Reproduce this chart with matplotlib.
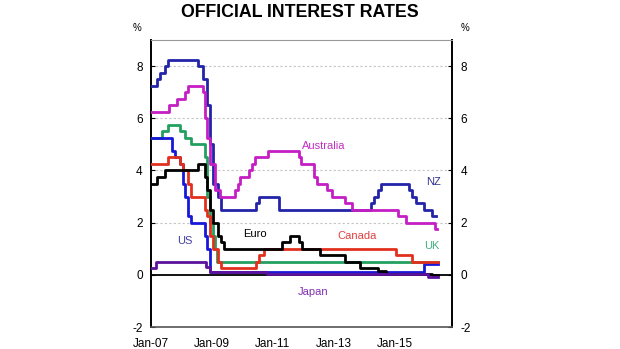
import numpy as np
import matplotlib
matplotlib.use("Agg")
import matplotlib.pyplot as plt

plt.rcParams['font.family'] = ['Liberation Sans', 'DejaVu Sans']
plt.rcParams['axes.unicode_minus'] = False

# step series: (decimal year, rate)
nz_t = [2007.0, 2007.2, 2007.3, 2007.45, 2007.55, 2008.55, 2008.7, 2008.83, 2008.95, 2009.05, 2009.2, 2009.3,
        2010.45, 2010.55, 2011.2, 2014.2, 2014.3, 2014.45, 2014.55, 2015.45, 2015.55, 2015.7, 2015.95, 2016.2, 2016.35]
nz_v = [7.25, 7.5, 7.75, 8.0, 8.25, 8.0, 7.5, 6.5, 5.0, 3.5, 3.0, 2.5,
        2.75, 3.0, 2.5, 2.75, 3.0, 3.25, 3.5, 3.25, 3.0, 2.75, 2.5, 2.25, 2.25]

au_t = [2007.0, 2007.6, 2007.85, 2008.1, 2008.2, 2008.7, 2008.78, 2008.85, 2008.93, 2009.1, 2009.25, 2009.77,
        2009.85, 2009.93, 2010.2, 2010.3, 2010.4, 2010.85, 2011.85, 2011.93, 2012.35, 2012.45, 2012.78, 2012.93,
        2013.35, 2013.6, 2015.1, 2015.35, 2016.3, 2016.38]
au_v = [6.25, 6.5, 6.75, 7.0, 7.25, 7.0, 6.0, 5.25, 4.25, 3.25, 3.0, 3.25,
        3.5, 3.75, 4.0, 4.25, 4.5, 4.75, 4.5, 4.25, 3.75, 3.5, 3.25, 3.0,
        2.75, 2.5, 2.25, 2.0, 1.75, 1.75]

uk_t = [2007.0, 2007.35, 2007.55, 2007.95, 2008.1, 2008.3, 2008.77, 2008.85, 2008.93, 2009.03, 2009.1, 2009.18, 2016.4]
uk_v = [5.25, 5.5, 5.75, 5.5, 5.25, 5.0, 4.5, 3.0, 2.0, 1.5, 1.0, 0.5, 0.5]

us_t = [2007.0, 2007.7, 2007.8, 2007.95, 2008.05, 2008.1, 2008.22, 2008.3, 2008.78, 2008.83, 2008.95, 2015.95, 2016.4]
us_v = [5.25, 4.75, 4.5, 4.25, 3.5, 3.0, 2.25, 2.0, 1.5, 1.0, 0.125, 0.4, 0.4]

ca_t = [2007.0, 2007.55, 2007.95, 2008.05, 2008.2, 2008.32, 2008.77, 2008.83, 2008.93, 2009.05, 2009.2, 2009.3,
        2010.45, 2010.55, 2010.7, 2015.05, 2015.55, 2016.4]
ca_v = [4.25, 4.5, 4.25, 4.0, 3.5, 3.0, 2.5, 2.25, 1.5, 1.0, 0.5, 0.25,
        0.5, 0.75, 1.0, 0.75, 0.5, 0.5]

eu_t = [2007.0, 2007.2, 2007.45, 2008.55, 2008.78, 2008.85, 2008.95, 2009.05, 2009.2, 2009.3, 2009.38,
        2011.3, 2011.55, 2011.85, 2011.95, 2012.55, 2013.35, 2013.85, 2014.45, 2014.7, 2016.2, 2016.4]
eu_v = [3.5, 3.75, 4.0, 4.25, 3.75, 3.25, 2.5, 2.0, 1.5, 1.25, 1.0,
        1.25, 1.5, 1.25, 1.0, 0.75, 0.5, 0.25, 0.15, 0.05, 0.0, 0.0]

jp_t = [2007.0, 2007.15, 2008.8, 2008.95, 2010.8, 2016.1, 2016.4]
jp_v = [0.25, 0.5, 0.3, 0.1, 0.05, -0.1, -0.1]

series = [
    ("NZ", nz_t, nz_v, "#2424a8"),
    ("UK", uk_t, uk_v, "#22a060"),
    ("US", us_t, us_v, "#1818d8"),
    ("Canada", ca_t, ca_v, "#e2301e"),
    ("Euro", eu_t, eu_v, "#000000"),
    ("Australia", au_t, au_v, "#c41ec4"),
    ("Japan", jp_t, jp_v, "#5c129c"),
]

labels = {
    "Australia": (2012.65, 4.95, "#c030c0"),
    "NZ": (2016.25, 3.55, "#303090"),
    "UK": (2016.2, 1.1, "#40b080"),
    "Canada": (2013.75, 1.5, "#e04040"),
    "Euro": (2010.4, 1.55, "#000000"),
    "US": (2008.1, 1.3, "#4040a0"),
    "Japan": (2012.3, -0.65, "#8030b0"),
}

yticks = [-2, 0, 2, 4, 6, 8]
xticks = [2007, 2009, 2011, 2013, 2015]
xlabels = ["Jan-07", "Jan-09", "Jan-11", "Jan-13", "Jan-15"]

fig = plt.figure(figsize=(6.2, 3.49), dpi=100)
ax = fig.add_axes([0.2435, 0.063, 0.4855, 0.8224])

for y in [2, 4, 6, 8]:
    ax.axhline(y, color="#c4c4c4", lw=0.8, ls=(0, (2, 2)), zorder=1)
ax.axhline(0, color="black", lw=1.3, zorder=2)

for name, t, v, c in series:
    ax.step(t, v, where="post", color=c, lw=2.0, zorder=3)

for name, (x, y, c) in labels.items():
    ax.text(x, y, name, color=c, fontsize=8, ha="center", va="center")

ax.set_xlim(2007, 2016.87)
ax.set_ylim(-2, 9)
ax.set_yticks(yticks)
ax.set_xticks(xticks)
ax.set_xticklabels(xlabels, fontsize=8.5)
ax.tick_params(axis="y", direction="in", length=3, labelsize=8.5, left=True, right=True,
               labelleft=True, labelright=True, pad=6)
ax.tick_params(axis="x", length=0, pad=8)

for s in ["left", "right"]:
    ax.spines[s].set_linewidth(1.4)
ax.spines["top"].set_color("#999999")
ax.spines["top"].set_linestyle((0, (3, 1)))
ax.spines["bottom"].set_color("#555555")
ax.spines["bottom"].set_linewidth(1.2)

fig.text(0.484, 0.965, "OFFICIAL INTEREST RATES", fontsize=12.8, fontweight="bold",
         ha="center", va="center")
fig.text(0.221, 0.92, "%", fontsize=7, ha="center", va="center")
fig.text(0.75, 0.92, "%", fontsize=7, ha="center", va="center")

fig.savefig("out.png", dpi=100)
